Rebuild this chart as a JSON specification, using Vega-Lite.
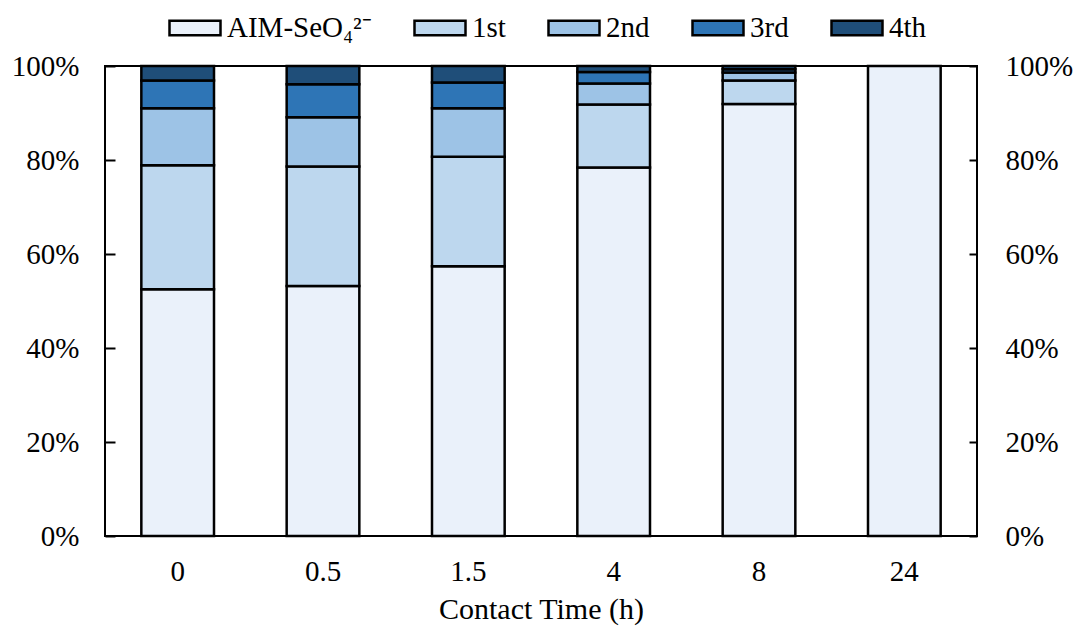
{
  "$schema": "https://vega.github.io/schema/vega-lite/v6.json",
  "width": 872,
  "height": 470,
  "autosize": {"type": "none"},
  "padding": {"left": 105, "top": 66, "right": 101, "bottom": 92},
  "background": "white",
  "config": {
    "font": "Liberation Serif",
    "view": {"stroke": "black", "strokeWidth": 2},
    "axis": {
      "labelFont": "Liberation Serif",
      "titleFont": "Liberation Serif",
      "labelColor": "black",
      "titleColor": "black",
      "labelFontSize": 29,
      "titleFontSize": 30,
      "titleFontWeight": "normal",
      "domain": false,
      "grid": false,
      "tickColor": "black",
      "tickWidth": 2
    },
    "legend": {
      "labelFont": "Liberation Serif",
      "labelFontSize": 29,
      "labelColor": "black",
      "padding": 0
    }
  },
  "data": {
    "values": [
      {"time": "0", "series": "AIM-SeO₄²⁻", "order": 0, "pct": 52.5},
      {"time": "0", "series": "1st", "order": 1, "pct": 26.4},
      {"time": "0", "series": "2nd", "order": 2, "pct": 12.1},
      {"time": "0", "series": "3rd", "order": 3, "pct": 5.9},
      {"time": "0", "series": "4th", "order": 4, "pct": 3.1},
      {"time": "0.5", "series": "AIM-SeO₄²⁻", "order": 0, "pct": 53.2},
      {"time": "0.5", "series": "1st", "order": 1, "pct": 25.4},
      {"time": "0.5", "series": "2nd", "order": 2, "pct": 10.5},
      {"time": "0.5", "series": "3rd", "order": 3, "pct": 7.0},
      {"time": "0.5", "series": "4th", "order": 4, "pct": 3.9},
      {"time": "1.5", "series": "AIM-SeO₄²⁻", "order": 0, "pct": 57.4},
      {"time": "1.5", "series": "1st", "order": 1, "pct": 23.3},
      {"time": "1.5", "series": "2nd", "order": 2, "pct": 10.3},
      {"time": "1.5", "series": "3rd", "order": 3, "pct": 5.5},
      {"time": "1.5", "series": "4th", "order": 4, "pct": 3.5},
      {"time": "4", "series": "AIM-SeO₄²⁻", "order": 0, "pct": 78.4},
      {"time": "4", "series": "1st", "order": 1, "pct": 13.4},
      {"time": "4", "series": "2nd", "order": 2, "pct": 4.5},
      {"time": "4", "series": "3rd", "order": 3, "pct": 2.4},
      {"time": "4", "series": "4th", "order": 4, "pct": 1.3},
      {"time": "8", "series": "AIM-SeO₄²⁻", "order": 0, "pct": 91.9},
      {"time": "8", "series": "1st", "order": 1, "pct": 5.0},
      {"time": "8", "series": "2nd", "order": 2, "pct": 1.7},
      {"time": "8", "series": "3rd", "order": 3, "pct": 0.7},
      {"time": "8", "series": "4th", "order": 4, "pct": 0.7},
      {"time": "24", "series": "AIM-SeO₄²⁻", "order": 0, "pct": 100}
    ]
  },
  "encoding": {
    "x": {
      "field": "time",
      "type": "nominal",
      "sort": ["0", "0.5", "1.5", "4", "8", "24"],
      "scale": {"paddingInner": 0.5, "paddingOuter": 0.25},
      "axis": {
        "title": "Contact Time (h)",
        "labelAngle": 0,
        "ticks": false,
        "labelPadding": 21,
        "titlePadding": 8
      }
    }
  },
  "layer": [
    {
      "mark": {"type": "bar", "stroke": "black", "strokeWidth": 2.5},
      "encoding": {
        "y": {
          "field": "pct",
          "type": "quantitative",
          "stack": "zero",
          "scale": {"domain": [0, 100], "nice": false},
          "axis": {
            "title": null,
            "orient": "left",
            "values": [0, 20, 40, 60, 80, 100],
            "labelExpr": "datum.value + '%'",
            "tickSize": -10,
            "labelPadding": 36
          }
        },
        "color": {
          "field": "series",
          "type": "nominal",
          "scale": {
            "domain": ["AIM-SeO₄²⁻", "1st", "2nd", "3rd", "4th"],
            "range": ["#EAF1FA", "#BDD7EE", "#9DC3E6", "#2E75B6", "#1F4E79"]
          },
          "legend": {
            "title": null,
            "orient": "none",
            "direction": "horizontal",
            "columns": 5,
            "legendX": 63,
            "legendY": -65,
            "symbolType": "M-1,-0.28H1V0.28H-1Z",
            "symbolSize": 2601,
            "symbolStrokeColor": "black",
            "symbolStrokeWidth": 2.5,
            "symbolOpacity": 1,
            "labelOffset": 5,
            "columnPadding": 37
          }
        },
        "order": {"field": "order", "type": "quantitative", "sort": "ascending"}
      }
    },
    {
      "mark": {"type": "bar", "opacity": 0, "strokeWidth": 0},
      "encoding": {
        "y": {
          "field": "pct",
          "type": "quantitative",
          "stack": "zero",
          "scale": {"domain": [0, 100], "nice": false},
          "axis": {
            "title": null,
            "orient": "right",
            "values": [0, 20, 40, 60, 80, 100],
            "labelExpr": "datum.value + '%'",
            "tickSize": -8,
            "labelPadding": 36
          }
        }
      }
    }
  ],
  "resolve": {"axis": {"y": "independent"}}
}
